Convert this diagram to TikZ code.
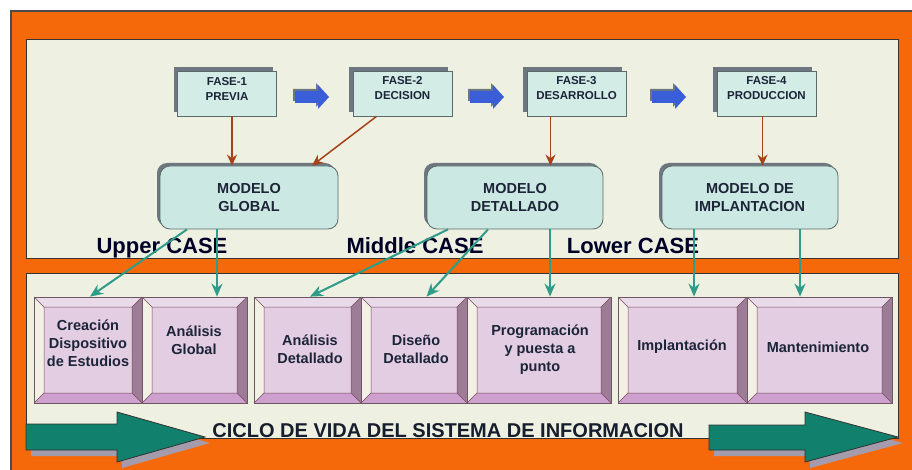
\documentclass[tikz,border=0pt]{standalone}
\usepackage{fontspec}
\setmainfont{Liberation Sans}
\usetikzlibrary{arrows.meta,shadows,calc}
\definecolor{orangeC}{HTML}{F5690A}
\definecolor{panelC}{HTML}{EEF0E1}
\definecolor{faseC}{HTML}{D3ECE6}
\definecolor{modC}{HTML}{CCE8E2}
\definecolor{borderC}{HTML}{5A6A6A}
\definecolor{shadowC}{HTML}{6E7680}
\definecolor{brownC}{HTML}{A5421A}
\definecolor{tealC}{HTML}{2E9C88}
\definecolor{greenC}{HTML}{11806C}
\definecolor{faceC}{HTML}{E2CDE2}
\definecolor{topC}{HTML}{E9DAE9}
\definecolor{leftC}{HTML}{F3F0E6}
\definecolor{rightC}{HTML}{9C7C96}
\definecolor{botC}{HTML}{CDA0CD}
\definecolor{textC}{HTML}{1C2438}
\definecolor{blueC}{HTML}{3A5ED8}
\definecolor{bigshadowC}{HTML}{A49CAC}
\newcommand\bv{10}
\newcommand\bevbox[5]{% left, right, name, text position, text
  \fill[faceC] (#1,297) rectangle (#2,403);
  \fill[topC] (#1,297) -- (#2,297) -- ({#2-\bv},{297+\bv}) -- ({#1+\bv},{297+\bv}) -- cycle;
  \fill[leftC] (#1,297) -- ({#1+\bv},{297+\bv}) -- ({#1+\bv},{403-\bv}) -- (#1,403) -- cycle;
  \fill[rightC] (#2,297) -- ({#2-\bv},{297+\bv}) -- ({#2-\bv},{403-\bv}) -- (#2,403) -- cycle;
  \fill[botC] (#1,403) -- ({#1+\bv},{403-\bv}) -- ({#2-\bv},{403-\bv}) -- (#2,403) -- cycle;
  \draw[bevline] (#1,297) -- ({#1+\bv},{297+\bv}) (#2,297) -- ({#2-\bv},{297+\bv})
    (#1,403) -- ({#1+\bv},{403-\bv}) (#2,403) -- ({#2-\bv},{403-\bv})
    ({#1+\bv},{297+\bv}) rectangle ({#2-\bv},{403-\bv});
  \node[draw=borderC!80!purple, line width=0.8pt, minimum width={#2-#1}, minimum height=106, inner sep=0pt] (#3) at ({(#1+#2)/2},350) {};
  \node[lowtext] (#3t) at #4 {#5};
}
\newcommand\bluearrow[1]{%
  \fill[shadowC] ({#1-2},{89}) -- ({#1+21},89) -- ({#1+21},83) -- ({#1+32},95) -- ({#1+21},107) -- ({#1+21},101) -- ({#1-2},101) -- cycle;
  \fill[blueC] (#1,91) -- ({#1+23},91) -- ({#1+23},85) -- ({#1+34},97) -- ({#1+23},109) -- ({#1+23},103) -- (#1,103) -- cycle;
}
\begin{document}
\begin{tikzpicture}[x=1pt,y=-1pt,
  fase/.style={draw=borderC, line width=0.8pt, fill=faseC, minimum width=99, minimum height=45, inner sep=0pt,
    general shadow={shadow xshift=-4pt, shadow yshift=4pt, fill=shadowC}},
  fasetext/.style={text=textC, font=\bfseries\fontsize{11.5}{15}\selectfont, align=center, inner sep=0pt},
  modelo/.style={draw=borderC, line width=0.8pt, fill=modC, rounded corners=10pt, minimum width=176, minimum height=63, inner sep=0pt,
    align=center, text=textC, font=\bfseries\fontsize{14.5}{18}\selectfont,
    general shadow={shadow xshift=-3pt, shadow yshift=3pt, fill=shadowC}},
  lowtext/.style={text=textC, font=\bfseries\fontsize{14.5}{18}\selectfont, align=center, inner sep=0pt},
  caselabel/.style={text=black!85!blue, font=\bfseries\fontsize{22}{26}\selectfont, anchor=base, inner sep=0pt},
  brownarrow/.style={draw=brownC, line width=1.5pt, -{Stealth[length=11pt, width=10pt]}},
  tealarrow/.style={draw=tealC, line width=2pt, -{Stealth[length=13pt, width=11pt]}},
  bevline/.style={draw=borderC!70!purple, line width=0.5pt},
  panel/.style={fill=panelC, draw=black!80, line width=1pt},
  bigarrow/.style={fill=greenC, draw=black!80, line width=0.8pt}
]
\useasboundingbox (0,0) rectangle (912,470);
\fill[white] (0,0) rectangle (912,470);
\fill[orangeC] (11,11) rectangle (912,470);
\draw[black!70, line width=1.5pt] (11,470) -- (11,11) -- (912,11);
% panels
\path[panel] (26,40) rectangle (898,258);
\path[panel] (26,273) rectangle (898,438);
% phase boxes
\node[fase] (f1) at (227,93.5) {};
\node[fase] (f2) at (402.5,93.5) {};
\node[fase] (f3) at (576.5,93.5) {};
\node[fase] (f4) at (766.5,93.5) {};
\node[fasetext] (f1t) at ([yshift=5pt]f1.center) {FASE-1\\PREVIA};
\node[fasetext] (f2t) at ([yshift=5pt]f2.center) {FASE-2\\DECISION};
\node[fasetext] (f3t) at ([yshift=5pt]f3.center) {FASE-3\\DESARROLLO};
\node[fasetext] (f4t) at ([yshift=5pt]f4.center) {FASE-4\\PRODUCCION};
\bluearrow{295}
\bluearrow{470}
\bluearrow{652}
% model boxes
\node[modelo, minimum width=178] (m1) at (249,197.5) {MODELO\\GLOBAL};
\node[modelo] (m2) at (515,197.5) {MODELO\\DETALLADO};
\node[modelo] (m3) at (750,197.5) {MODELO DE\\IMPLANTACION};
% brown arrows
\draw[brownarrow] ([xshift=5pt]f1.south) -- ([xshift=5pt]f1.south |- m1.north);
\draw[brownarrow] ([xshift=-26pt]f2.south) -- ([xshift=63pt]m1.north);
\draw[brownarrow] ([xshift=-26pt]f3.south) -- ([xshift=-26pt]f3.south |- m2.north);
\draw[brownarrow] ([xshift=-4pt]f4.south) -- ([xshift=-4pt]f4.south |- m3.north);
% case labels
\node[caselabel] (lu) at (162,254) {Upper CASE};
\node[caselabel] (lm) at (415,254) {Middle CASE};
\node[caselabel] (ll) at (633,254) {Lower CASE};
% lower boxes
\bevbox{34}{142}{b1}{(88,343)}{Creación\\Dispositivo\\de Estudios}
\bevbox{142}{247}{b2}{(194,340)}{Análisis\\Global}
\bevbox{254}{361}{b3}{(310,349)}{Análisis\\Detallado}
\bevbox{361}{467}{b4}{(416,349)}{Diseño\\Detallado}
\bevbox{467}{611}{b5}{(540,350)}{Programación\\y puesta a\\punto}
\bevbox{618}{747}{b6}{(682,347)}{Implantación}
\bevbox{747}{892}{b7}{(818,347)}{Mantenimiento}
% teal arrows
\draw[tealarrow] ([xshift=-62pt]m1.south) -- ([xshift=2pt]b1.north);
\draw[tealarrow] ([xshift=-32pt]m1.south) -- ([xshift=-32pt]m1.south |- b2.north);
\draw[tealarrow] ([xshift=-67pt]m2.south) -- ([xshift=2.5pt]b3.north);
\draw[tealarrow] ([xshift=-27pt]m2.south) -- ([xshift=12.5pt]b4.north);
\draw[tealarrow] ([xshift=35pt]m2.south) -- ([xshift=35pt]m2.south |- b5.north);
\draw[tealarrow] ([xshift=-56pt]m3.south) -- ([xshift=-56pt]m3.south |- b6.north);
\draw[tealarrow] ([xshift=50pt]m3.south) -- ([xshift=50pt]m3.south |- b7.north);
% big arrows
\fill[bigshadowC] (31,430) -- (122,430) -- (122,418) -- (210,443) -- (122,468) -- (122,456) -- (31,456) -- cycle;
\path[bigarrow] (26,424) -- (117,424) -- (117,412) -- (205,437) -- (117,462) -- (117,450) -- (26,450) -- cycle;
\fill[bigshadowC] (714,431) -- (810,431) -- (810,418) -- (903,443) -- (810,468) -- (810,456) -- (714,456) -- cycle;
\path[bigarrow] (709,425) -- (805,425) -- (805,412) -- (898,437) -- (805,462) -- (805,450) -- (709,450) -- cycle;
\node[text=textC!80!black, font=\bfseries\fontsize{20}{24}\selectfont, anchor=base, inner sep=0pt] (ciclo) at (448,437) {CICLO DE VIDA DEL SISTEMA DE INFORMACION};
\end{tikzpicture}
\end{document}
